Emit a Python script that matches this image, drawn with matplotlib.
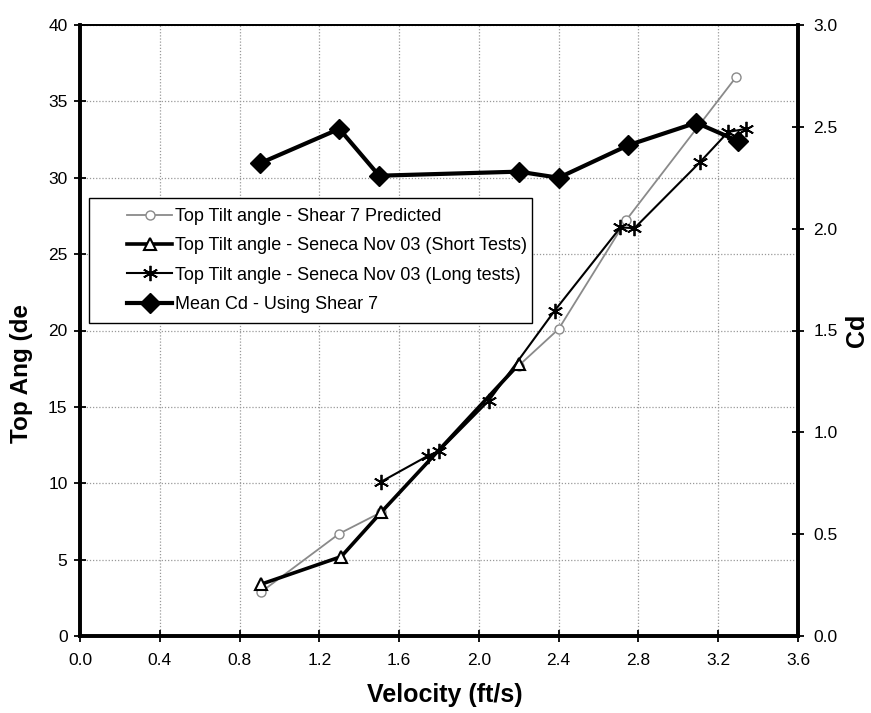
import matplotlib
matplotlib.use("Agg")
import numpy as np
import matplotlib.pyplot as plt
from matplotlib.legend_handler import HandlerLine2D

plt.rcParams['font.family'] = ['Liberation Sans', 'DejaVu Sans']

# Data
pred_v = [0.91, 1.30, 1.51, 2.20, 2.40, 2.74, 3.29]
pred_ang = [2.9, 6.7, 8.1, 17.7, 20.1, 27.25, 36.6]

short_v = [0.91, 1.31, 1.51, 2.20]
short_ang = [3.4, 5.2, 8.1, 17.8]

long_v = [1.51, 1.745, 1.80, 2.05, 2.38, 2.71, 2.78, 3.107, 3.25, 3.34]
long_ang = [10.1, 11.8, 12.1, 15.4, 21.3, 26.75, 26.7, 31.0, 33.0, 33.2]

cd_v = [0.90, 1.30, 1.50, 2.20, 2.40, 2.75, 3.09, 3.30]
cd_val = [2.32, 2.49, 2.26, 2.28, 2.25, 2.41, 2.52, 2.43]

labels = ["Top Tilt angle - Shear 7 Predicted",
          "Top Tilt angle - Seneca Nov 03 (Short Tests)",
          "Top Tilt angle - Seneca Nov 03 (Long tests)",
          "Mean Cd - Using Shear 7"]

x_ticks = [0.0, 0.4, 0.8, 1.2, 1.6, 2.0, 2.4, 2.8, 3.2, 3.6]
y_ticks = [0, 5, 10, 15, 20, 25, 30, 35, 40]
cd_ticks = [0.0, 0.5, 1.0, 1.5, 2.0, 2.5, 3.0]


class ShiftedHandler(HandlerLine2D):
    """Line handle drawn only over the right part of the handle box."""
    def get_xdata(self, legend, xdescent, ydescent, width, height, fontsize):
        x0 = -xdescent + 0.38 * width
        x1 = -xdescent + width
        return np.array([x0, x1]), np.array([(x0 + x1) / 2])


fig = plt.figure(figsize=(8.71, 7.13), dpi=100)
ax1 = fig.add_axes([80/871, 1-636/713, 718/871, 611/713])
ax2 = ax1.twinx()

l1, = ax1.plot(pred_v, pred_ang, color='#8a8a8a', lw=1.3, marker='o',
               markersize=6.5, markerfacecolor='white', markeredgecolor='#8a8a8a',
               markeredgewidth=1.0, zorder=3)
l2, = ax1.plot(short_v, short_ang, color='black', lw=2.6, marker='^',
               markersize=9, markerfacecolor='white', markeredgecolor='black',
               markeredgewidth=1.5, zorder=4)
l3, = ax1.plot(long_v, long_ang, color='black', lw=1.5, marker=(6, 2, 0),
               markersize=11, markeredgecolor='black', markeredgewidth=1.3, zorder=5)
l4, = ax2.plot(cd_v, cd_val, color='black', lw=3.0, marker='D',
               markersize=10, markerfacecolor='black', markeredgecolor='black', zorder=5)

ax1.set_xlim(0, 3.6)
ax1.set_ylim(0, 40)
ax2.set_ylim(0, 3.0)
ax1.set_xticks(x_ticks)
ax1.set_xticklabels([f"{t:.1f}" for t in x_ticks])
ax1.set_yticks(y_ticks)
ax1.set_yticklabels([str(t) for t in y_ticks])
ax2.set_yticks(cd_ticks)
ax2.set_yticklabels([f"{t:.1f}" for t in cd_ticks])

ax1.grid(True, color='#999999', linestyle=(0, (1, 1.5)), linewidth=0.9)
ax1.set_axisbelow(True)

for ax in (ax1, ax2):
    for side in ('left', 'bottom', 'right'):
        ax.spines[side].set_linewidth(2.6)
        ax.spines[side].set_color('black')
    ax.spines['top'].set_linewidth(1.3)

ax1.tick_params(axis='x', which='major', labelsize=12.5, direction='inout',
                length=8, width=1.3, colors='black', pad=8)
ax1.tick_params(axis='y', which='major', labelsize=12.5, direction='inout',
                length=8, width=1.3, colors='black', pad=5)
ax2.tick_params(axis='y', which='major', labelsize=12.5, direction='inout',
                length=8, width=1.3, colors='black', pad=7)

ax1.set_xlabel("Velocity (ft/s)", fontsize=18, fontweight='bold')
ax1.xaxis.set_label_coords(0.508, -0.077)
ax1.set_ylabel("Top Ang (de", fontsize=17.5, fontweight='bold')
ax1.yaxis.set_label_coords(-0.066, 0.43)
ax2.set_ylabel("Cd", fontsize=18, fontweight='bold', labelpad=5)

h = ShiftedHandler()
leg = ax2.legend([l1, l2, l3, l4], labels, loc='upper left',
                 bbox_to_anchor=(0.0125, 0.5, 0.6175, 0.217), mode='expand',
                 fontsize=13, frameon=True,
                 fancybox=False, edgecolor='black', framealpha=1.0,
                 handlelength=4.05, handletextpad=0.17, borderpad=0.57,
                 labelspacing=0.68, borderaxespad=0,
                 handler_map={l1: h, l2: h, l3: h, l4: h})
leg.get_frame().set_linewidth(1.0)
leg.set_zorder(10)

fig.savefig("out.png", dpi=100)
